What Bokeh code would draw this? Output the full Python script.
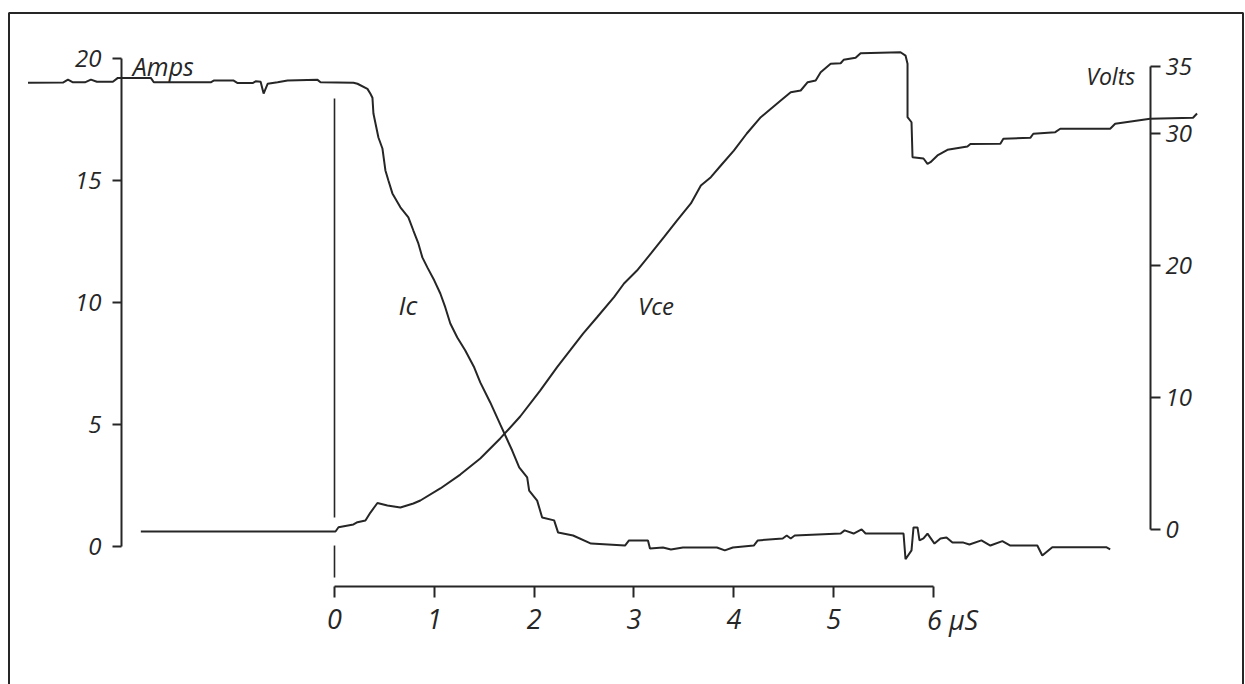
from bokeh.plotting import figure
from bokeh.models import Range1d, LinearAxis, FixedTicker, Label
from bokeh.embed import file_html
from bokeh.resources import INLINE

# ---- data ----
# collector current Ic (A) vs time (us)
ic_time = [-3.07, -2.72, -2.67, -2.62, -2.50, -2.44, -2.38, -2.22, -2.17, -1.84, -1.81, -1.24,
           -1.21, -1.01, -0.97, -0.82, -0.79, -0.74, -0.71, -0.67, -0.57, -0.47, -0.17, -0.14,
           0.19, 0.23, 0.33, 0.36, 0.38, 0.39, 0.44, 0.48, 0.51, 0.54, 0.58, 0.66, 0.74, 0.79,
           0.84, 0.88, 0.93, 1.00, 1.06, 1.11, 1.16, 1.23, 1.31, 1.40, 1.46, 1.56, 1.66, 1.78,
           1.85, 1.93, 1.95, 2.03, 2.08, 2.20, 2.24, 2.39, 2.57, 2.91, 2.95, 3.14, 3.16, 3.29,
           3.37, 3.49, 3.83, 3.91, 3.99, 4.20, 4.24, 4.49, 4.53, 4.57, 4.61, 5.07, 5.11, 5.20,
           5.28, 5.32, 5.70, 5.72, 5.78, 5.80, 5.84, 5.86, 5.90, 5.94, 6.01, 6.07, 6.13, 6.19,
           6.30, 6.36, 6.48, 6.57, 6.69, 6.77, 7.04, 7.09, 7.19, 7.73, 7.77]
ic_amps = [19.01, 19.02, 19.14, 19.03, 19.03, 19.14, 19.05, 19.05, 19.21, 19.21, 19.03, 19.03,
           19.10, 19.10, 19.00, 19.00, 19.07, 19.05, 18.57, 18.97, 19.03, 19.10, 19.13, 19.03,
           19.01, 18.97, 18.76, 18.56, 18.40, 17.75, 16.77, 16.32, 15.42, 15.01, 14.48, 13.91, 13.50, 12.96,
           12.43, 11.86, 11.45, 10.91, 10.38, 9.81, 9.15, 8.58, 8.05, 7.35, 6.74, 5.92, 5.02, 3.95,
           3.26, 2.85, 2.31, 1.90, 1.21, 1.09, 0.59, 0.47, 0.14, 0.06, 0.27, 0.27, -0.06, -0.02,
           -0.10, -0.02, -0.02, -0.14, -0.02, 0.06, 0.27, 0.35, 0.47, 0.35, 0.47, 0.55, 0.68, 0.55,
           0.72, 0.55, 0.55, -0.50, -0.14, 0.80, 0.80, 0.27, 0.35, 0.55, 0.14, 0.35, 0.39, 0.18,
           0.18, 0.10, 0.27, 0.06, 0.24, 0.06, 0.06, -0.35, -0.01, -0.01, -0.10]

# collector-emitter voltage Vce (V) vs time (us)
vce_time = [-1.94, 0.01, 0.04, 0.19, 0.23, 0.31, 0.36, 0.43, 0.53, 0.66, 0.79, 0.86, 1.06, 1.26,
            1.46, 1.66, 1.86, 2.06, 2.23, 2.36, 2.49, 2.63, 2.80, 2.90, 3.03, 3.17, 3.30, 3.43,
            3.57, 3.67, 3.77, 3.87, 4.00, 4.13, 4.27, 4.33, 4.47, 4.57, 4.67, 4.74, 4.82, 4.87,
            4.97, 5.07, 5.10, 5.22, 5.27, 5.67, 5.72, 5.74, 5.74, 5.78, 5.79, 5.90, 5.94, 5.97,
            6.04, 6.14, 6.34, 6.37, 6.67, 6.70, 6.97, 7.00, 7.22, 7.27, 7.77, 7.82, 8.17, 8.60, 8.64]
vce_volts = [-0.11, -0.11, 0.21, 0.42, 0.59, 0.72, 1.32, 2.04, 1.85, 1.70, 2.00, 2.23, 3.14, 4.19,
             5.40, 6.92, 8.58, 10.54, 12.31, 13.57, 14.85, 16.08, 17.60, 18.63, 19.61, 20.90, 22.13, 23.39,
             24.68, 26.04, 26.67, 27.55, 28.68, 29.97, 31.20, 31.58, 32.46, 33.09, 33.22, 33.85, 33.98, 34.60,
             35.24, 35.28, 35.54, 35.69, 36.04, 36.11, 35.86, 35.24, 31.20, 30.82, 28.18, 28.08, 27.68, 27.80,
             28.31, 28.74, 28.99, 29.18, 29.19, 29.57, 29.64, 29.95, 30.07, 30.33, 30.33, 30.70, 31.08, 31.16, 31.48]

# trigger marker at t = 0 (two pieces, in amps)
trigger_time = [0, 0]
trigger_top = [18.37, 0.06]
trigger_bottom = [1.21, -1.25]

time_ticks = [0, 1, 2, 3, 4, 5, 6]
amp_ticks = [0, 5, 10, 15, 20]
volt_ticks = [0, 10, 20, 30, 35]

INK = "#262626"
FONT = "Open Sans"

p = figure(width=1245, height=684, output_backend="svg", toolbar_location=None,
           title=None, x_axis_type=None, y_axis_type=None,
           x_range=Range1d(-3.3457, 9.1255), y_range=Range1d(-5.631, 21.929),
           min_border_left=0, min_border_right=0, min_border_top=11, min_border_bottom=0)
p.extra_y_ranges = {"volts": Range1d(-11.678, 39.191)}
p.background_fill_color = "white"
p.border_fill_color = "white"
p.outline_line_color = None

# paper border (left, top, right; open at the bottom)
border_x = [-3.2606, -3.2606, 9.1005, 9.1005]
border_y = [-6.0, 21.867, 21.867, -6.0]
p.line(border_x, border_y, line_color=INK, line_width=2)

def style_axis(ax, size):
    ax.axis_line_color = INK
    ax.axis_line_width = 2
    ax.major_tick_line_color = INK
    ax.major_tick_line_width = 2
    ax.major_tick_in = 0
    ax.minor_tick_in = 0
    ax.minor_tick_out = 0
    ax.major_label_text_font = FONT
    ax.major_label_text_font_style = "italic"
    ax.major_label_text_color = INK
    ax.major_label_text_font_size = size

xax = LinearAxis(fixed_location=-1.6175, ticker=FixedTicker(ticks=time_ticks), bounds=(0, 6))
style_axis(xax, "27px")
xax.major_tick_out = 11
xax.major_label_standoff = 3
xax.major_label_overrides = {6: " "}
p.add_layout(xax, "below")

lax = LinearAxis(fixed_location=-2.134, ticker=FixedTicker(ticks=amp_ticks), bounds=(0, 20))
style_axis(lax, "24px")
lax.major_tick_out = 9
lax.major_label_standoff = 11
p.add_layout(lax, "left")

rax = LinearAxis(y_range_name="volts", fixed_location=8.174,
                 ticker=FixedTicker(ticks=volt_ticks), bounds=(0, 35))
style_axis(rax, "24px")
rax.major_tick_out = 10
rax.major_label_standoff = 5
p.add_layout(rax, "right")

p.line(ic_time, ic_amps, line_color=INK, line_width=2)
p.line(vce_time, vce_volts, line_color=INK, line_width=2, y_range_name="volts")
p.segment(x0=trigger_time, y0=trigger_top, x1=trigger_time, y1=trigger_bottom,
          line_color=INK, line_width=1.6)

def lab(x, y, text, align="left", rng="default", size="24px", baseline="alphabetic"):
    p.add_layout(Label(x=x, y=y, text=text, text_align=align, text_baseline=baseline,
                       y_range_name=rng, text_font=FONT, text_font_style="italic",
                       text_color=INK, text_font_size=size))

lab(-2.02, 19.68, "Amps", size="25px")
lab(8.02, 34.35, "Volts", align="right", rng="volts", size="23px")
lab(0.64, 9.89, "Ic", size="26px")
lab(3.04, 9.89, "Vce", size="24px")
lab(5.935, -2.232, "6 \u03bcS", size="27px", baseline="top")

open("out.html", "w").write(file_html(p, INLINE))
